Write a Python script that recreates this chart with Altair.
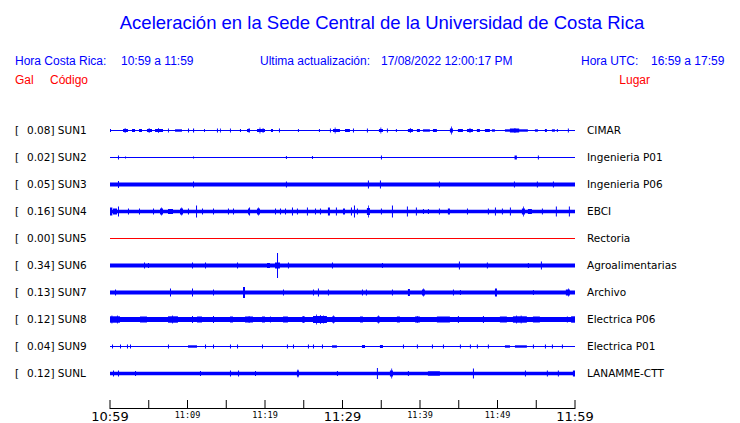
import altair as alt
import pandas as pd

# ---------------- data ----------------
codes = ["SUN1", "SUN2", "SUN3", "SUN4", "SUN5", "SUN6", "SUN7", "SUN8", "SUN9", "SUNL"]
gal = [0.08, 0.02, 0.05, 0.16, 0.00, 0.34, 0.13, 0.12, 0.04, 0.12]
places = ["CIMAR", "Ingenieria P01", "Ingenieria P06", "EBCI", "Rectoria",
          "Agroalimentarias", "Archivo", "Electrica P06", "Electrica P01", "LANAMME-CTT"]
# background noise half-amplitude of every trace
noise = [0.6, 0.5, 2.0, 1.8, 0.5, 2.0, 2.0, 2.5, 0.6, 1.8]

# bursts: (start minute, end minute, half amplitude) after 10:59
sun1 = [(0.0, 0.13, 1.5), (1.68, 2.32, 1.5), (1.9, 2.0, 2.5), (2.84, 3.23, 1.5), (3.74, 4.13, 1.5),
        (4.77, 5.42, 1.5), (5.0, 5.1, 2.5), (5.81, 6.84, 1.5), (6.2, 6.3, 2.5), (7.48, 7.6, 2),
        (8.39, 9.29, 1.2), (10.06, 10.2, 2), (10.71, 10.85, 2),
        (12.13, 12.25, 1.5), (13.8, 13.93, 2), (14.19, 14.3, 2), (15.48, 15.6, 2), (16.77, 16.9, 1.5),
        (17.68, 18.06, 1.5), (17.9, 18.0, 2.5), (18.97, 20.0, 1.5), (19.3, 19.4, 3), (19.7, 19.8, 2.5),
        (20.77, 21.03, 1.5), (21.8, 21.93, 2), (24.25, 24.38, 1.5),
        (26.96, 27.09, 1.5), (28.38, 28.5, 2), (28.77, 29.67, 1.5), (29.0, 29.1, 3), (30.32, 30.96, 1.5),
        (31.35, 31.48, 2), (33.15, 33.28, 2), (34.7, 35.22, 1.5), (34.9, 35.0, 3), (35.73, 35.86, 2),
        (36.89, 37.02, 1.5), (38.44, 39.09, 1.5), (38.7, 38.8, 2.5),
        (39.6, 39.99, 1.5), (40.38, 41.28, 1.2), (41.67, 42.18, 1.5), (43.86, 44.25, 2), (44.0, 44.1, 4),
        (44.89, 45.54, 1.5), (46.06, 46.83, 1.5), (46.4, 46.5, 2.5), (47.34, 47.73, 1.5), (48.38, 49.02, 1.5),
        (49.28, 49.67, 1.2), (50.96, 53.92, 1.2), (51.6, 52.8, 2), (52.2, 52.3, 2.5),
        (54.83, 55.21, 1.2), (56.12, 56.37, 1.5), (57.02, 57.41, 1.2),
        (57.66, 57.79, 1.5), (59.08, 59.21, 2)]
sun2 = [(1.03, 1.16, 2), (1.94, 2.07, 1), (10.71, 10.84, 1), (22.7, 22.83, 1.5), (26.06, 26.19, 1.5),
        (34.96, 35.09, 2), (52.2, 52.5, 2), (55.21, 55.34, 2)]
sun3 = [(1.03, 1.16, 3.5), (10.71, 10.84, 3), (22.7, 22.83, 3), (33.28, 33.41, 4), (34.83, 34.96, 4),
        (42.44, 42.57, 3), (52.12, 52.25, 3), (55.08, 55.21, 3), (57.15, 57.28, 3)]
sun4 = [(0.0, 0.3, 4), (0.39, 0.9, 3), (1.03, 1.16, 5), (2.32, 2.45, 3), (3.74, 3.87, 3), (5.55, 5.68, 3),
        (6.45, 6.84, 3), (6.6, 6.7, 4), (7.48, 8.13, 2.5), (9.03, 9.42, 3), (9.2, 9.3, 4), (10.06, 10.19, 3),
        (11.1, 11.23, 6),
        (11.87, 12.0, 3), (13.29, 13.42, 3), (15.22, 15.35, 3), (15.87, 16.0, 3), (17.81, 17.94, 3),
        (17.94, 18.07, 4), (18.97, 19.35, 3), (19.1, 19.2, 4), (21.29, 21.42, 3), (21.93, 22.06, 3),
        (22.58, 22.71, 3),
        (23.48, 23.61, 4), (24.12, 24.25, 3), (25.41, 25.54, 4), (26.45, 26.58, 3), (27.09, 27.22, 3),
        (28.12, 28.38, 4), (29.15, 29.28, 4), (30.06, 30.32, 3), (31.09, 31.22, 4), (31.48, 31.61, 6),
        (31.86, 31.99, 3), (33.15, 33.54, 3.5), (33.3, 33.4, 6), (34.96, 35.09, 3), (36.38, 36.51, 6),
        (38.31, 38.44, 5),
        (39.47, 39.6, 4), (40.38, 40.51, 2.5), (41.02, 41.15, 2.5), (42.44, 42.57, 3), (43.6, 43.86, 3),
        (46.06, 46.19, 3), (48.76, 48.89, 3), (49.67, 49.8, 4), (50.57, 50.7, 3), (51.6, 51.73, 4),
        (53.15, 53.54, 3), (53.3, 53.4, 5), (53.92, 54.44, 2.5), (55.73, 55.86, 3), (57.53, 57.66, 5),
        (59.21, 59.34, 5)]
sun5 = []
sun6 = [(4.39, 4.52, 3), (4.9, 5.03, 2.5), (10.58, 10.71, 3), (12.26, 12.39, 3), (16.39, 16.52, 3),
        (20.26, 20.64, 2.5), (21.29, 21.93, 3), (21.55, 21.68, 12.5), (22.96, 23.09, 3), (28.64, 28.77, 3),
        (35.09, 35.22, 2.5), (45.02, 45.15, 4), (48.63, 48.76, 3), (53.92, 54.05, 2.5), (55.6, 55.73, 4)]
sun7 = [(0.65, 0.78, 3), (7.74, 7.87, 4), (10.58, 10.71, 4), (13.29, 13.42, 3), (17.16, 17.42, 5.5),
        (22.32, 22.45, 3), (26.19, 26.32, 3), (26.83, 26.96, 4), (28.12, 28.25, 3), (32.51, 32.64, 3),
        (33.02, 33.15, 3), (36.38, 36.51, 3), (38.44, 38.7, 3.5), (40.25, 40.63, 3), (40.4, 40.5, 4),
        (44.25, 44.38, 3),
        (45.15, 45.28, 2.5), (49.67, 49.93, 4), (54.57, 54.7, 2.5), (58.82, 59.34, 3), (59.1, 59.2, 4)]
sun8 = [(0.0, 1.29, 3.2), (0.2, 0.3, 4), (0.9, 1.0, 4), (3.87, 4.77, 3), (7.48, 8.77, 3.2), (8.0, 8.1, 4),
        (10.58, 10.71, 3.5), (11.23, 11.87, 3),
        (13.29, 13.42, 3.5), (15.48, 15.87, 3), (17.42, 18.45, 3), (17.9, 18.0, 3.5), (19.61, 20.0, 3),
        (20.64, 20.77, 3),
        (22.32, 22.96, 3), (24.77, 25.16, 3), (24.9, 25.0, 3.5), (26.19, 27.99, 3.5), (26.6, 26.7, 5),
        (27.1, 27.2, 4.5), (27.5, 27.6, 4),
        (28.64, 29.03, 3), (28.8, 28.9, 4), (32.25, 32.64, 3), (34.44, 34.83, 3), (34.6, 34.7, 4),
        (37.02, 37.41, 3), (39.35, 39.99, 3), (39.6, 39.7, 3.5), (42.18, 43.86, 3), (44.89, 45.02, 3.5),
        (48.12, 48.25, 3.5), (50.31, 51.21, 3), (51.99, 53.79, 3.2), (52.4, 52.5, 4), (53.0, 53.1, 4),
        (54.57, 55.47, 3), (58.95, 59.08, 3),
        (59.5, 60.0, 3.2)]
sun9 = [(0.26, 0.39, 2), (1.29, 1.42, 2), (2.19, 2.32, 2), (2.58, 2.71, 2), (7.48, 7.61, 2),
        (10.06, 11.23, 1.2), (12.26, 12.39, 2), (13.29, 13.42, 2), (15.48, 15.61, 2), (16.39, 16.52, 2),
        (19.61, 19.74, 2), (22.83, 22.96, 2), (23.61, 23.74, 2), (25.54, 25.67, 2), (26.19, 26.32, 2),
        (27.35, 27.48, 2), (28.64, 29.28, 1.2), (32.51, 32.9, 1.5), (34.83, 35.22, 1.5), (37.8, 37.93, 2),
        (39.6, 39.73, 2), (41.54, 41.67, 2), (42.96, 43.09, 2), (45.15, 45.28, 2), (46.44, 46.57, 2),
        (47.34, 47.47, 2), (48.76, 48.89, 2), (50.96, 51.6, 1.2), (52.25, 53.79, 1.2), (54.57, 54.7, 2),
        (56.12, 56.25, 2), (57.02, 57.15, 2), (58.31, 58.44, 2)]
sunl = [(0.39, 0.52, 3), (1.03, 1.16, 3), (3.23, 3.36, 2.5), (11.61, 11.74, 2.5), (15.48, 15.61, 3),
        (16.52, 16.65, 3), (18.71, 18.84, 2.5), (24.12, 24.38, 3), (24.2, 24.3, 4), (29.28, 29.41, 2.5),
        (34.44, 34.57, 5.5),
        (36.12, 36.51, 3), (36.3, 36.4, 5), (38.44, 38.57, 2.5), (41.02, 42.57, 2.2), (46.83, 46.96, 5),
        (53.54, 53.67, 3),
        (56.37, 56.5, 3), (57.79, 57.92, 3), (59.73, 60.0, 3)]
bursts = [sun1, sun2, sun3, sun4, sun5, sun6, sun7, sun8, sun9, sunl]

tick_minutes = list(range(0, 61, 5))
label_minutes = [0, 10, 20, 30, 40, 50, 60]
label_text = ["10:59", "11:09", "11:19", "11:29", "11:39", "11:49", "11:59"]
label_big = [True, False, False, True, False, False, True]

# ---------------- tables ----------------
ROW = 27
rows = []
for i, code in enumerate(codes):
    c = i * ROW
    rows.append(dict(code=code, t0=0.0, t1=60.0, lo=c - noise[i], hi=c + noise[i]))
    for (a, b, amp) in bursts[i]:
        rows.append(dict(code=code, t0=a, t1=b, lo=c - amp, hi=c + amp))
traces = pd.DataFrame(rows)

stations = pd.DataFrame(dict(
    code=codes,
    pos=[i * ROW for i in range(len(codes))],
    left=[f"{g:.2f}] {c}" for g, c in zip(gal, codes)],
    place=places,
))
ticks = pd.DataFrame(dict(t=tick_minutes))
labels = pd.DataFrame(dict(t=label_minutes, text=label_text, big=label_big))

xs = alt.Scale(domain=[0, 60], nice=False, zero=False)
ys = alt.Scale(domain=[-14.5, 278.5], reverse=True, nice=False, zero=False)

blue = "#0000ff"
red = "#ff0000"

trace_layer = alt.Chart(traces).mark_rect(strokeWidth=0).encode(
    x=alt.X("t0:Q", scale=xs, axis=None),
    x2="t1:Q",
    y=alt.Y("lo:Q", scale=ys, axis=None),
    y2="hi:Q",
    color=alt.condition(alt.datum.code == "SUN5", alt.value(red), alt.value(blue)),
)

axis_line = alt.Chart(ticks).mark_rule(color="black", strokeWidth=1).encode(
    x=alt.value(0), x2=alt.value(465), y=alt.value(292.5)
)
tick_layer = alt.Chart(ticks).mark_rule(color="black", strokeWidth=1).encode(
    x=alt.X("t:Q", scale=xs, axis=None), y=alt.value(284), y2=alt.value(293)
)
big_lab = alt.Chart(labels).transform_filter(alt.datum.big).mark_text(
    font="DejaVu Sans", fontSize=13, baseline="alphabetic", align="center", color="black"
).encode(x=alt.X("t:Q", scale=xs, axis=None), y=alt.value(305), text="text:N")
small_lab = alt.Chart(labels).transform_filter(~alt.datum.big).mark_text(
    font="DejaVu Sans Mono", fontSize=8.5, baseline="alphabetic", align="center", color="black"
).encode(x=alt.X("t:Q", scale=xs, axis=None), y=alt.value(302), text="text:N")

bracket = alt.Chart(stations).mark_text(
    text="[", font="DejaVu Sans", fontSize=10.5, align="left", baseline="middle", color="black"
).encode(x=alt.value(-95), y=alt.Y("pos:Q", scale=ys, axis=None))
left_lab = alt.Chart(stations).mark_text(
    font="DejaVu Sans", fontSize=10.5, align="left", baseline="middle", color="black"
).encode(x=alt.value(-83), y=alt.Y("pos:Q", scale=ys, axis=None), text="left:N")
right_lab = alt.Chart(stations).mark_text(
    font="DejaVu Sans", fontSize=10.5, align="left", baseline="middle", color="black"
).encode(x=alt.value(477), y=alt.Y("pos:Q", scale=ys, axis=None), text="place:N")


def label(txt, x, y, size, color, align="left"):
    return alt.Chart(ticks.head(1)).mark_text(
        text=txt, font="Liberation Sans", fontSize=size, align=align,
        baseline="middle", color=color
    ).encode(x=alt.value(x), y=alt.value(y))


header = [
    label("Aceleración en la Sede Central de la Universidad de Costa Rica", 272, -93, 18.5, blue, "center"),
    label("Hora Costa Rica:", -95, -55, 12, blue),
    label("10:59 a 11:59", 11, -55, 12, blue),
    label("Ultima actualización:", 150, -55, 12, blue),
    label("17/08/2022 12:00:17 PM", 271, -55, 12, blue),
    label("Hora UTC:", 471, -55, 12, blue),
    label("16:59 a 17:59", 541, -55, 12, blue),
    label("Gal", -95, -36, 12, red),
    label("Código", -60, -36, 12, red),
    label("Lugar", 540, -36, 12, red, "right"),
]

chart = alt.layer(
    trace_layer, axis_line, tick_layer, big_lab, small_lab, bracket, left_lab, right_lab, *header
).properties(
    width=465, height=293,
    autosize=alt.AutoSizeParams(type="none"),
    padding={"left": 102, "top": 108, "right": 157, "bottom": 14},
    background="white",
).configure_view(stroke=None)

chart.save("out.html", embed_options={"renderer": "svg", "actions": False})
